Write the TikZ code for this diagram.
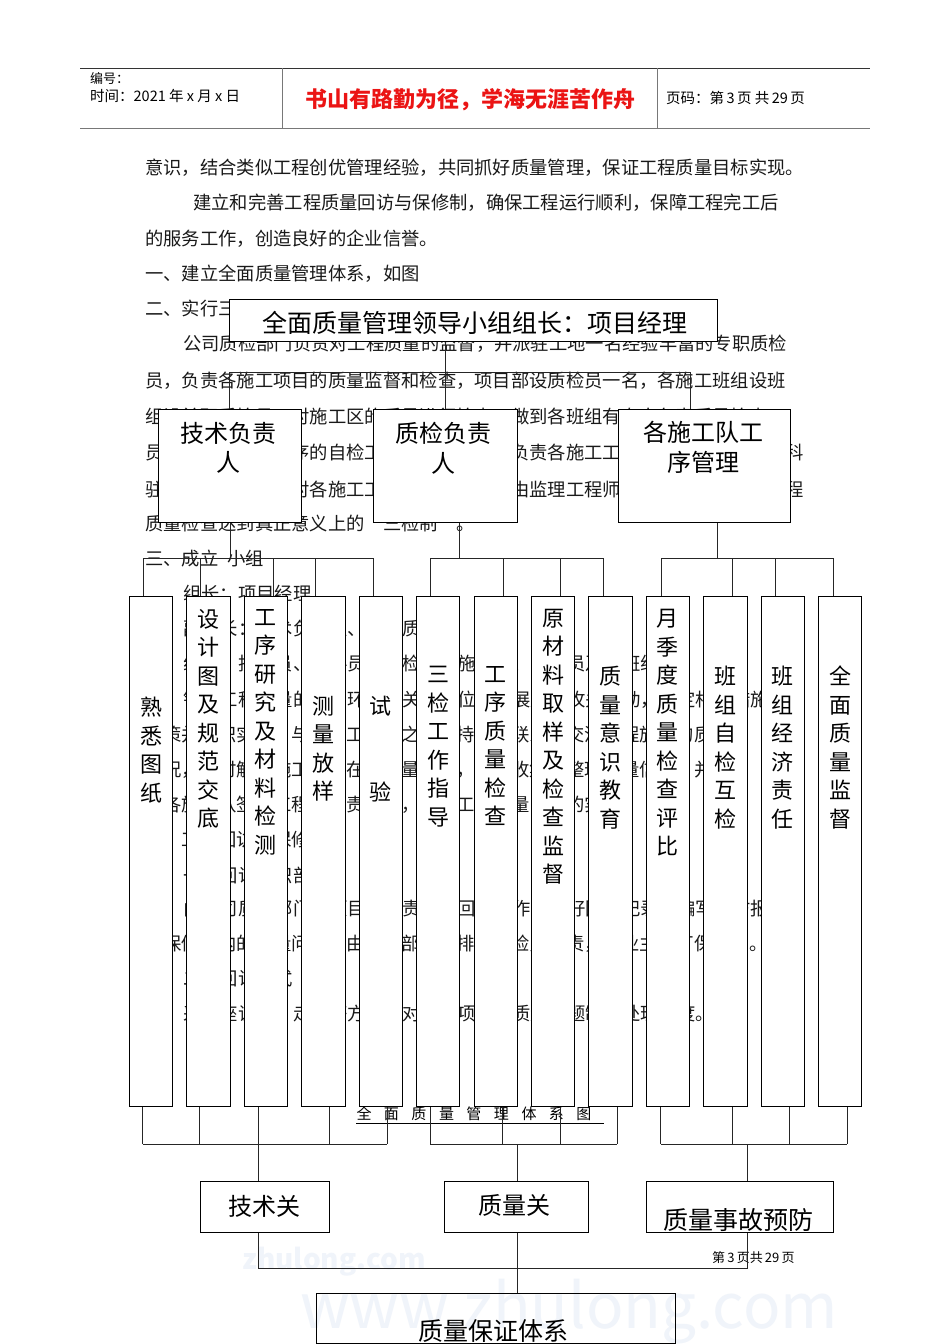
\documentclass[tikz,border=0pt]{standalone}
\usepackage{fontspec}
\setmainfont{Noto Sans CJK SC}
\definecolor{hdrred}{RGB}{235,20,20}
\definecolor{wm}{RGB}{240,244,250}
\definecolor{hline}{RGB}{120,120,120}
\tikzset{
  box/.style={draw=black, fill=white, line width=0.9pt, inner sep=0pt, anchor=north west},
  conn/.style={draw=black!85, line width=0.9pt},
  btext/.style={anchor=base west, inner sep=0pt, font=\fontsize{18.3}{20}\selectfont, text=black!90},
  vlab/.style={anchor=north, inner sep=0pt, align=center, font=\fontsize{22}{28.5}\selectfont},
  blab/.style={anchor=north, inner sep=0pt, align=center, font=\fontsize{24}{29.5}\selectfont},
  clab/.style={anchor=base, inner sep=0pt, font=\fontsize{24}{28}\selectfont}
}
\begin{document}
\begin{tikzpicture}[x=1pt,y=-1pt]
\useasboundingbox (0,0) rectangle (950,1344);
\fill[white] (0,0) rectangle (950,1344);

% watermarks
\node[anchor=west, inner sep=0pt, text=wm, font=\fontsize{28}{30}\selectfont\bfseries] (wm1) at (242,1262) {zhulong.com};
\node[anchor=west, inner sep=0pt, text=wm, font=\fontsize{62}{66}\selectfont] (wm2) at (300,1312) {www.zhulong.com};

% header
\draw[line width=0.9pt, black!80] (80,68) -- (870,68);
\draw[line width=1.8pt, hline] (80,128.5) -- (870,128.5);
\draw[line width=0.9pt, hline] (282,68) -- (282,128);
\draw[line width=0.9pt, hline] (657,68) -- (657,128);
\node[anchor=base west, inner sep=0pt, font=\fontsize{13}{15}\selectfont] (h1) at (90,83) {编号：};
\node[anchor=base west, inner sep=0pt, font=\fontsize{14.5}{16}\selectfont] (h2) at (90,101.5) {时间：2021 年 x 月 x 日};
\node[anchor=base, inner sep=0pt, text=hdrred, font=\fontsize{22}{24}\selectfont\bfseries] (h3) at (470,107) {书山有路勤为径，学海无涯苦作舟};
\node[anchor=base west, inner sep=0pt, font=\fontsize{14.5}{16}\selectfont] (h4) at (666,103.5) {页码：第\,3\,页\ 共\,29\,页};

% body text
\node[btext] (p1) at (145,174) {意识，结合类似工程创优管理经验，共同抓好质量管理，保证工程质量目标实现。};
\node[btext] (p2) at (193,209) {建立和完善工程质量回访与保修制，确保工程运行顺利，保障工程完工后};
\node[btext] (p3) at (145,245) {的服务工作，创造良好的企业信誉。};
\node[btext] (p4) at (145,280) {一、建立全面质量管理体系，如图};
\node[btext] (p5) at (145,315) {二、实行三检制度};
\node[btext] (p6) at (183,350) {公司质检部门负责对工程质量的监督，并派驻工地一名经验丰富的专职质检};
\node[btext] (p7) at (145,387) {员，负责各施工项目的质量监督和检查，项目部设质检员一名，各施工班组设班};
\node[btext] (p8) at (145,423) {组设兼职质检员，对施工区的质量进行检查，做到各班组有专人负责质量检查};
\node[btext] (p9) at (145,459) {员，负责各班组工序的自检工作，专职质检员负责各施工工序的质量检查，工程科};
\node[btext] (p10) at (145,496) {驻工地质检员负责对各施工工序进行质检，并由监理工程师进行复检确认，使工程};
\node[btext] (p11) at (145,530) {质量检查达到真正意义上的“三检制”。};
\node[btext] (p12) at (145,565) {三、成立\hspace{9pt}小组};
\node[btext] (p13) at (183,600) {组长：项目经理};
\node[btext] (p14) at (183,635) {副组长：技术负责人、专职质检员};
\node[btext] (p15) at (183,670) {组员：技术员、材料员、质检员、施工员、安全员及各班组长};
\node[btext] (p16) at (183,706) {针对工程质量的薄弱环节与关键部位，开展质量攻关活动，制定相应措施};
\node[btext] (p17) at (145,741) {对策并组织实施，与监理工程师之间保持经常联系，交流工程施工的质量};
\node[btext] (p18) at (145,776) {情况，及时解决施工中存在的质量问题，注意收集和整理质量信息，并};
\node[btext] (p19) at (145,811) {与各施工队签订工程质量责任书，确保工程质量目标的实现。};
\node[btext] (p20) at (145,846) {十、工程回访与保修};
\node[btext] (p21) at (183,882) {一、回访组织部门};
\node[btext] (p22) at (183,915) {由公司质检部门和项目部负责工程回访工作，做好回访记录，编写回访报告};
\node[btext] (p23) at (145,950) {段保修期内的质量问题，由项目部已安排的质检员负责，与业主签订保修书。};
\node[btext] (p24) at (183,985) {二、回访方式};
\node[btext] (p25) at (183,1020) {采用座谈会、走访等方式，对回访项目的质量问题制定处理制度。};

% caption
\node[anchor=base, inner sep=0pt, font=\fontsize{15}{17}\selectfont] (cap) at (474,1119)
  {全\hspace{12.5pt}面\hspace{12.5pt}质\hspace{12.5pt}量\hspace{12.5pt}管\hspace{12.5pt}理\hspace{12.5pt}体\hspace{12.5pt}系\hspace{12.5pt}图};
\draw[line width=0.8pt] (cap.base west) ++(0,4.5) -- ++(248,0);

\node[anchor=base west, inner sep=0pt, font=\fontsize{13}{15}\selectfont] (pg) at (712,1262) {第\,3\,页共\,29\,页};

% top box
\node[box, minimum width=488pt, minimum height=42pt] (top) at (229,299) {};
\node[anchor=base, inner sep=0pt, font=\fontsize{25}{28}\selectfont] (topt) at (475,332) {全面质量管理领导小组组长：项目经理};

% level 2
\node[box, minimum width=143pt, minimum height=113pt] (t) at (158,409) {};
\node[box, minimum width=143.6pt, minimum height=113pt] (q) at (373,409) {};
\node[box, minimum width=172.5pt, minimum height=113pt] (g) at (617.5,409) {};
\node[blab] (tt) at (228,422) {技术负责\\人};
\node[blab] (qt) at (443,422) {质检负责\\人};
\node[blab] (gt) at (703,421) {各施工队工\\序管理};

% small vertical boxes
\node[box, minimum width=43.3pt, minimum height=510pt] (b1) at (129,596) {};
\node[box, minimum width=43.3pt, minimum height=510pt] (b2) at (186.43,596) {};
\node[box, minimum width=43.3pt, minimum height=510pt] (b3) at (243.86,596) {};
\node[box, minimum width=43.3pt, minimum height=510pt] (b4) at (301.29,596) {};
\node[box, minimum width=43.3pt, minimum height=510pt] (b5) at (358.72,596) {};
\node[box, minimum width=43.3pt, minimum height=510pt] (b6) at (416.15,596) {};
\node[box, minimum width=43.3pt, minimum height=510pt] (b7) at (473.58,596) {};
\node[box, minimum width=43.3pt, minimum height=510pt] (b8) at (531.01,596) {};
\node[box, minimum width=43.3pt, minimum height=510pt] (b9) at (588.44,596) {};
\node[box, minimum width=43.3pt, minimum height=510pt] (b10) at (645.87,596) {};
\node[box, minimum width=43.3pt, minimum height=510pt] (b11) at (703.3,596) {};
\node[box, minimum width=43.3pt, minimum height=510pt] (b12) at (760.73,596) {};
\node[box, minimum width=43.3pt, minimum height=510pt] (b13) at (818.16,596) {};

\node[vlab] (l1) at (b1.north |- 0,697) {熟\\悉\\图\\纸};
\node[vlab] (l2) at (b2.north |- 0,609) {设\\计\\图\\及\\规\\范\\交\\底};
\node[vlab] (l3) at (b3.north |- 0,609) {工\\序\\研\\究\\及\\材\\料\\检\\测};
\node[vlab] (l4) at (b4.north |- 0,696) {测\\量\\放\\样};
\node[vlab] (l5) at (b5.north |- 0,696) {试\\\mbox{}\\\mbox{}\\验};
\node[vlab] (l6) at (b6.north |- 0,666) {三\\检\\工\\作\\指\\导};
\node[vlab] (l7) at (b7.north |- 0,666) {工\\序\\质\\量\\检\\查};
\node[vlab] (l8) at (b8.north |- 0,609) {原\\材\\料\\取\\样\\及\\检\\查\\监\\督};
\node[vlab] (l9) at (b9.north |- 0,666) {质\\量\\意\\识\\教\\育};
\node[vlab] (l10) at (b10.north |- 0,609) {月\\季\\度\\质\\量\\检\\查\\评\\比};
\node[vlab] (l11) at (b11.north |- 0,666) {班\\组\\自\\检\\互\\检};
\node[vlab] (l12) at (b12.north |- 0,666) {班\\组\\经\\济\\责\\任};
\node[vlab] (l13) at (b13.north |- 0,666) {全\\面\\质\\量\\监\\督};

% bottom boxes
\node[box, minimum width=129.6pt, minimum height=51pt] (tg) at (199.8,1181) {};
\node[box, minimum width=144pt, minimum height=51pt] (zg) at (444.4,1181) {};
\node[box, minimum width=186.5pt, minimum height=51pt] (sg) at (646,1181) {};
\node[box, fill=none, minimum width=359.3pt, minimum height=50pt] (bx) at (315.7,1293) {};
\node[clab] (tgt) at (264,1215) {技术关};
\node[clab] (zgt) at (514,1214) {质量关};
\node[clab, font=\fontsize{25}{28}\selectfont] (sgt) at (738,1229) {质量事故预防};
\node[clab, font=\fontsize{25}{28}\selectfont] (bxt) at (493,1340.5) {质量保证体系};

% connectors: top level
\coordinate (h1c) at (229.5,372);
\coordinate (h2c) at (690,372);
\draw[conn] (top.south -| q.north) -- (q.north);
\draw[conn] (h1c) -- (h2c);
\draw[conn] (h1c) -- (h1c |- t.north);
\draw[conn] (h2c) -- (h2c |- g.north);

% junctions above the small boxes
\coordinate (u1) at (143.4,558);
\coordinate (u2) at (200.5,558);
\coordinate (u3) at (273,558);
\coordinate (u4) at (315,558);
\coordinate (u5) at (373,558);
\coordinate (u6) at (430,558);
\coordinate (u7) at (503,558);
\coordinate (u8) at (560,558);
\coordinate (u9) at (603,558);
\coordinate (u10) at (661,558);
\coordinate (u11) at (732,558);
\coordinate (u12) at (775,558);
\coordinate (u13) at (833,558);
\coordinate (qx) at (459.5,558);
\coordinate (gx) at (717.5,558);
\draw[conn] (u1) -- (u5);
\draw[conn] (u6) -- (u9);
\draw[conn] (u10) -- (u13);
\draw[conn] (t.south) -- (t.south |- u1);
\draw[conn] (qx |- q.south) -- (qx);
\draw[conn] (gx |- g.south) -- (gx);
\foreach \i in {1,...,13} { \draw[conn] (u\i) -- (u\i |- b\i.north); }

% junctions below the small boxes
\coordinate (d1) at (142.6,1144);
\coordinate (d2) at (199.8,1144);
\coordinate (d3) at (258.5,1144);
\coordinate (d4) at (329.4,1144);
\coordinate (d5) at (387.1,1144);
\coordinate (d6) at (430.3,1144);
\coordinate (d7) at (502.6,1144);
\coordinate (d8) at (560,1144);
\coordinate (d9) at (617,1144);
\coordinate (d10) at (660.8,1144);
\coordinate (d11) at (732.6,1144);
\coordinate (d12) at (789.8,1144);
\coordinate (d13) at (847,1144);
\coordinate (dm) at (517,1144);
\coordinate (dr) at (747.6,1144);
\foreach \i in {1,...,13} { \draw[conn] (d\i |- b\i.south) -- (d\i); }
\draw[conn] (d1) -- (d5);
\draw[conn] (d6) -- (d9);
\draw[conn] (d10) -- (d13);
\draw[conn] (d3) -- (d3 |- tg.north);
\draw[conn] (dm) -- (dm |- zg.north);
\draw[conn] (dr) -- (dr |- sg.north);

% lowest level
\coordinate (e1) at (258.5,1268);
\coordinate (e2) at (747.6,1268);
\draw[conn] (e1 |- tg.south) -- (e1) -- (e2) -- (e2 |- sg.south);
\draw[conn] (dm |- zg.south) -- (dm |- bx.north);
\end{tikzpicture}
\end{document}
